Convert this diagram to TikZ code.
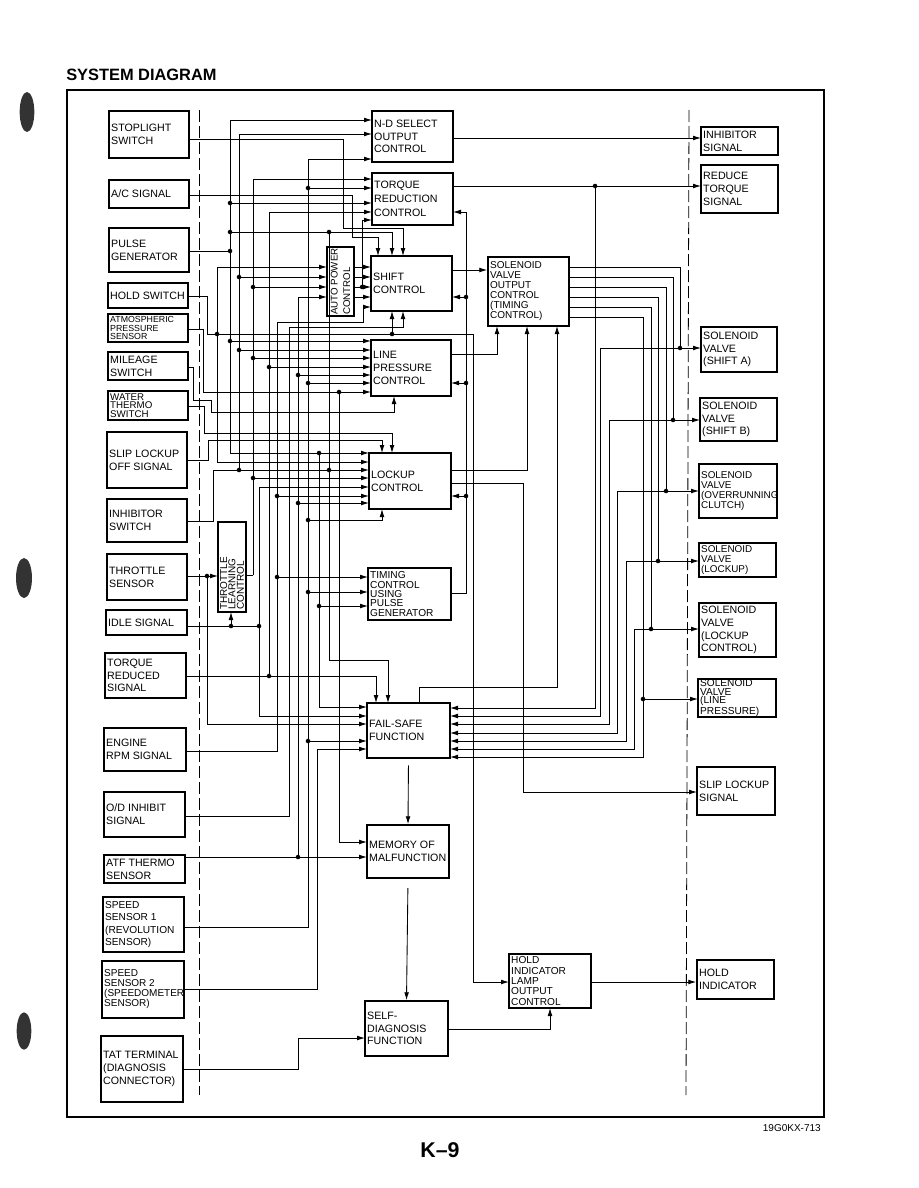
\documentclass[tikz,border=0pt]{standalone}
\usepackage{fontspec}
\setmainfont{Liberation Sans}
\usetikzlibrary{arrows.meta,calc}
\tikzset{
 box/.style={draw,line width=1.1pt,inner sep=0pt},
 txt/.style={align=left,inner sep=0pt,font=\fontsize{8}{9.6}\selectfont},
 wire/.style={line width=0.65pt},
 arw/.style={wire,-{Latex[length=6pt,width=3.6pt]}},
 f-atm/.style={font=\fontsize{6.6}{6.3}\selectfont},
 f-wat/.style={font=\fontsize{7.3}{6.6}\selectfont},
 f-ss1/.style={font=\fontsize{7.6}{9.4}\selectfont},
 f-ss2/.style={font=\fontsize{7.5}{7.5}\selectfont},
 f-svo/.style={font=\fontsize{7.5}{7.5}\selectfont},
 f-tim/.style={font=\fontsize{7.6}{7.1}\selectfont},
 f-hl/.style={font=\fontsize{7.6}{7.8}\selectfont},
 f-svc/.style={font=\fontsize{7.4}{7.6}\selectfont},
 f-svlp/.style={font=\fontsize{7.6}{6.5}\selectfont},
 f-tq/.style={font=\fontsize{8}{10.5}\selectfont},
 dashv/.style={line width=0.6pt,dash pattern=on 9pt off 3pt}
}
\newcommand\sdbox[7][]{%
 \pgfmathsetmacro\myW{(#5-#3)*0.75}%
 \pgfmathsetmacro\myH{(#6-#4)*0.75}%
 \node[box,minimum width=\myW pt,minimum height=\myH pt] (#2) at ({(#3+#5)/2},{(#4+#6)/2}) {};%
 \node[txt,anchor=west,#1] (#2-t) at ([xshift=2pt]#2.west) {#7};}
\newcommand\jdot[1]{\fill (#1) circle[radius=1.7pt];}
\begin{document}
\begin{tikzpicture}[x=0.75pt,y=-0.75pt]
\useasboundingbox (0,0) rectangle (918,1188);
% scan blobs
\fill[black!80] (27,112) ellipse[x radius=5.5pt,y radius=15pt];
\fill[black!80] (24,578) ellipse[x radius=6pt,y radius=15pt];
\fill[black!80] (24,1031) ellipse[x radius=5.5pt,y radius=14pt];
% title, frame, footer
\node[anchor=base west,inner sep=0pt,font=\bfseries\fontsize{12.3}{14}\selectfont] (title) at (66,80) {SYSTEM DIAGRAM};
\draw[line width=1pt] (67,90) rectangle (824,1117);
\node[anchor=base east,inner sep=0pt,font=\fontsize{7.5}{9}\selectfont] (code) at (821,1131) {19G0KX-713};
\node[anchor=base,inner sep=0pt,font=\bfseries\fontsize{16}{18}\selectfont] (pnum) at (440,1157) {K–9};
\draw[dashv] (199,110) -- (199,1095);
\draw[dashv] (689,110) -- (686,1095);
% left boxes
\sdbox{stop}{109}{111}{189}{158}{STOPLIGHT\\SWITCH}
\sdbox{ac}{109}{180}{189}{208}{A/C SIGNAL}
\sdbox{pg}{109}{228}{189}{272}{PULSE\\GENERATOR}
\sdbox{hold}{108}{283}{188}{308}{HOLD SWITCH}
\sdbox[f-atm]{atm}{108}{314}{188}{342}{ATMOSPHERIC\\PRESSURE\\SENSOR}
\sdbox{mil}{108}{352}{188}{380}{MILEAGE\\SWITCH}
\sdbox[f-wat]{wat}{108}{391}{188}{420}{WATER\\THERMO\\SWITCH}
\sdbox{slip}{107}{432}{187}{488}{SLIP LOCKUP\\OFF SIGNAL}
\sdbox{inh}{107}{499}{187}{542}{INHIBITOR\\SWITCH}
\sdbox{thr}{107}{554}{187}{600}{THROTTLE\\SENSOR}
\sdbox{idle}{106}{610}{187}{635}{IDLE SIGNAL}
\sdbox{tqr}{105}{653}{186}{698}{TORQUE\\REDUCED\\SIGNAL}
\sdbox{rpm}{104}{728}{186}{771}{ENGINE\\RPM SIGNAL}
\sdbox{od}{104}{792}{185}{837}{O/D INHIBIT\\SIGNAL}
\sdbox{atf}{104}{855}{185}{883}{ATF THERMO\\SENSOR}
\sdbox[f-ss1]{ssa}{103}{897}{184}{952}{SPEED\\SENSOR 1\\(REVOLUTION\\SENSOR)}
\sdbox[f-ss2]{ssb}{102}{961}{184}{1018}{SPEED\\SENSOR 2\\(SPEEDOMETER\\SENSOR)}
\sdbox{tat}{101}{1036}{183}{1102}{TAT TERMINAL\\(DIAGNOSIS\\CONNECTOR)}
% middle boxes
\sdbox{nd}{372}{111}{453}{162}{N-D SELECT\\OUTPUT\\CONTROL}
\sdbox[f-tq]{tq}{372}{173}{453}{225}{TORQUE\\REDUCTION\\CONTROL}
\sdbox{sh}{371}{256}{452}{311}{SHIFT\\CONTROL}
\sdbox[f-svo]{svo}{488}{257}{569}{326}{SOLENOID\\VALVE\\OUTPUT\\CONTROL\\(TIMING\\CONTROL)}
\sdbox{lp}{371}{340}{451}{396}{LINE\\PRESSURE\\CONTROL}
\sdbox{lu}{369}{453}{451}{509}{LOCKUP\\CONTROL}
\sdbox[f-tim]{tim}{368}{568}{451}{620}{TIMING\\CONTROL\\USING\\PULSE\\GENERATOR}
\sdbox{fs}{367}{703}{450}{758}{FAIL-SAFE\\FUNCTION}
\sdbox{mem}{367}{825}{449}{878}{MEMORY OF\\MALFUNCTION}
\sdbox{sd}{365}{1001}{448}{1056}{SELF-\\DIAGNOSIS\\FUNCTION}
\sdbox[f-hl]{hl}{509}{954}{591}{1008}{HOLD\\INDICATOR\\LAMP\\OUTPUT\\CONTROL}
% rotated boxes
\node[box,rotate=90,minimum width=51.75pt,minimum height=20.25pt] (apc) at (340.5,281.5) {};
\node[txt,rotate=90,anchor=west,font=\fontsize{7.3}{9.5}\selectfont] (apc-t) at (340.5,315) {AUTO POWER\\CONTROL};
\node[box,rotate=90,minimum width=67.5pt,minimum height=21pt] (tlc) at (232,567) {};
\node[txt,rotate=90,anchor=west,font=\fontsize{7.5}{6.3}\selectfont] (tlc-t) at (232,610) {THROTTLE\\LEARNING\\CONTROL};
% right boxes
\sdbox{inhs}{701}{127}{778}{155}{INHIBITOR\\SIGNAL}
\sdbox{rts}{701}{165}{778}{213}{REDUCE\\TORQUE\\SIGNAL}
\sdbox{sva}{701}{327}{777}{372}{SOLENOID\\VALVE\\(SHIFT A)}
\sdbox{svb}{700}{398}{777}{441}{SOLENOID\\VALVE\\(SHIFT B)}
\sdbox[f-svc]{svc}{699}{464}{777}{518}{SOLENOID\\VALVE\\(OVERRUNNING\\CLUTCH)}
\sdbox[f-svc]{svl}{699}{543}{776}{577}{SOLENOID\\VALVE\\(LOCKUP)}
\sdbox{svlc}{699}{603}{776}{657}{SOLENOID\\VALVE\\(LOCKUP\\CONTROL)}
\sdbox[f-svlp]{svlp}{698}{679}{776}{717}{SOLENOID\\VALVE\\(LINE\\PRESSURE)}
\sdbox{sls}{697}{767}{775}{815}{SLIP LOCKUP\\SIGNAL}
\sdbox{hi}{697}{960}{774}{999}{HOLD\\INDICATOR}
% ---- input wiring ----
% pulse generator bus
\draw[wire] (189,251) -- (230,251);
\draw[arw] (230,453) -- (230,120) -- (372,120);
\draw[arw] (230,453) -- (369,453);
\draw[arw] (230,203) -- (372,203);
\draw[arw] (230,341) -- (371,341);
\draw[arw] (230,232) -- (392,232) -- (392,256);
\draw[arw] (329,232) -- (329,660) -- (388,660) -- (388,703);
\jdot{230,203}\jdot{230,232}\jdot{230,251}\jdot{230,341}\jdot{329,232}
% bus 239 + inhibitor switch
\draw[arw] (239,470) -- (239,134) -- (372,134);
\draw[arw] (239,277) -- (327,277);
\draw[arw] (239,350) -- (371,350);
\draw[arw] (187,521) -- (213,521) -- (213,470) -- (369,470);
\jdot{239,277}\jdot{239,350}\jdot{239,470}\jdot{329,470}
% hold switch
\draw[arw] (217,462) -- (217,267) -- (327,267);
\draw[arw] (217,462) -- (369,462);
\draw[arw] (188,296) -- (207,296) -- (207,334) -- (473,334) -- (473,982) -- (509,982);
\draw[arw] (392,334) -- (392,311);
\jdot{217,334}\jdot{392,334}
% throttle sensor / learning control
\draw[arw] (187,576) -- (218,576);
\draw[arw] (207,576) -- (207,724) -- (367,724);
\jdot{207,576}
\draw[wire] (246,575) -- (253,575);
\draw[arw] (253,575) -- (253,179) -- (372,179);
\draw[arw] (253,287) -- (327,287);
\draw[arw] (253,358) -- (371,358);
\draw[arw] (253,478) -- (369,478);
\jdot{253,287}\jdot{253,358}\jdot{253,478}
% idle signal
\draw[wire] (187,626) -- (259,626);
\draw[arw] (231,626) -- (231,612);
\draw[arw] (259,626) -- (259,487) -- (369,487);
\draw[arw] (259,626) -- (259,716) -- (367,716);
\jdot{231,626}\jdot{259,626}
% torque reduced signal
\draw[arw] (186,676) -- (376,676) -- (376,703);
\draw[arw] (269,676) -- (269,212) -- (372,212);
\draw[arw] (269,367) -- (371,367);
\jdot{269,676}\jdot{269,367}
% engine rpm
\draw[arw] (186,751) -- (277,751) -- (277,322) -- (363,322) -- (363,307) -- (371,307);
\draw[arw] (277,577) -- (368,577);
\draw[arw] (277,496) -- (369,496);
\jdot{277,577}\jdot{277,496}
% o/d inhibit
\draw[arw] (185,816) -- (289,816) -- (289,327) -- (403,327) -- (403,311);
% atf thermo
\draw[arw] (185,857) -- (367,857);
\draw[arw] (298,857) -- (298,297) -- (327,297);
\draw[arw] (298,375) -- (371,375);
\draw[arw] (298,503) -- (369,503);
\jdot{298,857}\jdot{298,375}\jdot{298,503}
% speed sensor 1
\draw[arw] (184,927) -- (308,927) -- (308,159) -- (372,159);
\draw[arw] (308,188) -- (372,188);
\draw[arw] (308,383) -- (371,383);
\draw[arw] (308,520) -- (382,520) -- (382,509);
\draw[arw] (308,592) -- (368,592);
\draw[arw] (308,741) -- (367,741);
\jdot{308,188}\jdot{308,383}\jdot{308,520}\jdot{308,592}\jdot{308,741}
% speed sensor 2
\draw[arw] (184,989) -- (317,989) -- (317,749) -- (367,749);
% bus 319
\draw[arw] (319,453) -- (319,707) -- (367,707);
\draw[arw] (319,606) -- (368,606);
\jdot{319,453}\jdot{319,606}
% atmospheric
\draw[arw] (188,329) -- (203,329) -- (203,392) -- (371,392);
\draw[arw] (339,392) -- (339,842) -- (367,842);
\jdot{339,392}
% mileage
\draw[arw] (188,367) -- (193,367) -- (193,400) -- (211,400) -- (211,412) -- (394,412) -- (394,396);
% water thermo
\draw[arw] (188,406) -- (204,406) -- (204,433) -- (392,433) -- (392,453);
% slip lockup off
\draw[arw] (187,460) -- (208,460) -- (208,440) -- (382,440) -- (382,453);
% stoplight, a/c
\draw[arw] (189,139) -- (343,139) -- (343,228) -- (403,228) -- (403,256);
\draw[arw] (189,195) -- (352,195) -- (352,237) -- (378,237) -- (378,256);
\draw[arw] (362,287) -- (362,220) -- (372,220);
\jdot{362,287}
% auto power control to shift
\foreach \yy in {267,277,287,297}{\draw[arw] (354,\yy) -- (371,\yy);}
% timing control feedback
\draw[arw] (451,593) -- (466,593) -- (466,212) -- (453,212);
\draw[arw] (466,297) -- (452,297);
\draw[arw] (466,383) -- (451,383);
\draw[arw] (466,496) -- (451,496);
\jdot{466,297}\jdot{466,383}\jdot{466,496}
% ---- outputs ----
\draw[arw] (453,138) -- (701,138);
\draw[arw] (453,186) -- (701,186);
\draw[arw] (595,186) -- (595,708) -- (450,708);
\jdot{595,186}
\draw[arw] (sh.east |- 0,270) -- (svo.west |- 0,270);
\draw[arw] (451,354) -- (497,354) -- (497,326);
\draw[arw] (451,470) -- (527,470) -- (527,326);
\draw[arw] (451,483) -- (523,483) -- (523,792) -- (697,792);
\draw[arw] (419,703) -- (419,687) -- (557,687) -- (557,326);
\foreach \yy/\xx/\dd/\bb/\ff/\ee in {267/680/348/600/716/701,277/673/420/609/724/700,287/666/491/617/733/699,297/658/561/626/741/699,307/651/629/634/749/699}{
 \draw[arw] (569,\yy) -- (\xx,\yy) -- (\xx,\dd) -- (\ee,\dd);
 \draw[arw] (\xx,\dd) -- (\bb,\dd) -- (\bb,\ff) -- (450,\ff);
 \fill (\xx,\dd) circle[radius=1.7pt];}
\draw[arw] (569,317) -- (643,317) -- (643,699) -- (698,699);
\draw[arw] (643,699) -- (643,757) -- (450,757);
\jdot{643,699}
% lower chain
\draw[arw,shorten <=5pt] (fs.south) -- (mem.north);
\draw[arw,shorten <=7pt] (mem.south) -- (sd.north);
\draw[arw] (448,1029) -- (550,1029) -- (550,1008);
\draw[arw] (183,1069) -- (298,1069) -- (298,1038) -- (365,1038);
\draw[arw] (hl.east |- 0,982) -- (hi.west |- 0,982);
\end{tikzpicture}
\end{document}
